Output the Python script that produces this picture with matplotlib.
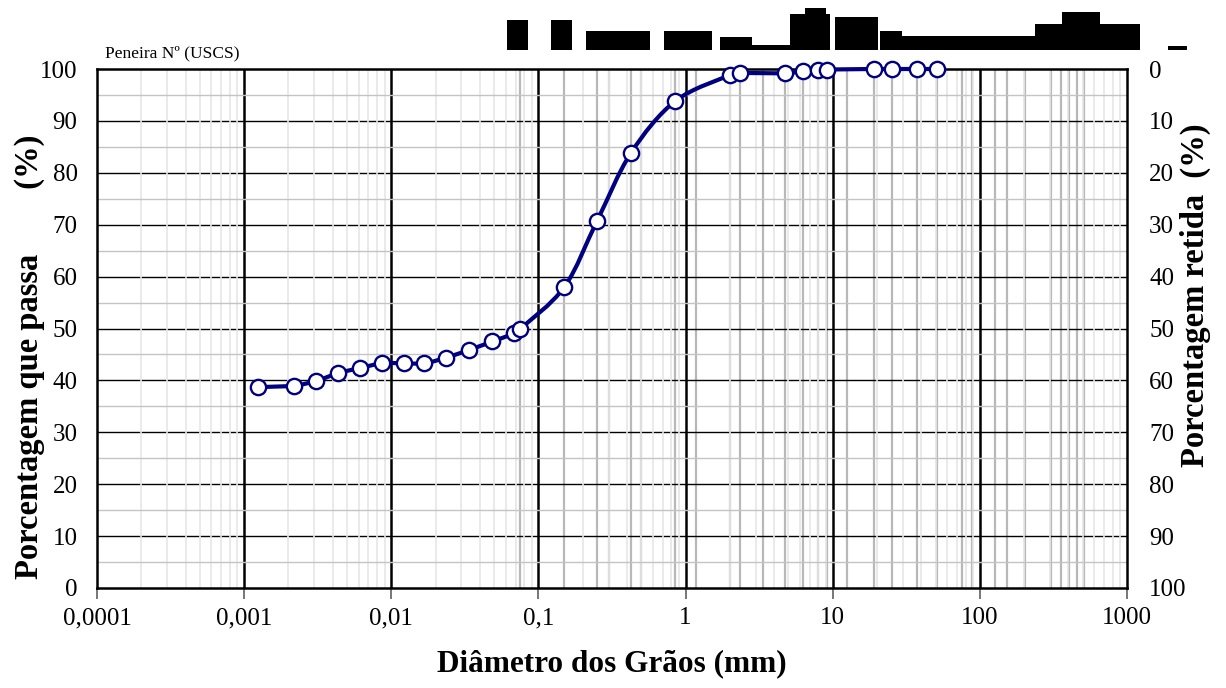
import matplotlib
matplotlib.use("Agg")
import matplotlib.pyplot as plt
import numpy as np
from matplotlib.path import Path
from matplotlib.patches import PathPatch, Rectangle
from matplotlib.ticker import FixedLocator, LogLocator, NullFormatter

plt.rcParams["font.family"] = ["Liberation Serif", "DejaVu Serif"]

# grain size curve: hydrometer readings below 0.075 mm, sieves above
diam_mm = [0.00124, 0.00219, 0.00309, 0.00436, 0.00616, 0.00869, 0.01225,
           0.0168, 0.0237, 0.034, 0.0487, 0.0687, 0.075, 0.15, 0.25, 0.425,
           0.85, 2.0, 2.36, 4.75, 6.3, 8.0, 9.2, 19.0, 25.4, 37.5, 50.8]
pct_passing = [38.7, 39.0, 39.9, 41.4, 42.4, 43.3, 43.3, 43.3, 44.4, 45.9,
               47.5, 49.1, 49.9, 58.0, 70.7, 83.8, 93.8, 98.8, 99.2, 99.2,
               99.6, 99.9, 99.9, 100.0, 100.0, 100.0, 100.0]

# USCS sieve openings (mm), drawn as darker vertical grid lines
sieve_mm = [0.075, 0.15, 0.25, 0.3, 0.425, 0.5, 0.85, 1.18, 2.0, 2.36, 3.35,
            4.75, 6.3, 8.0, 9.2, 12.5, 19.0, 25.4, 37.5, 50.8, 76.2, 88.9,
            127.0, 152.4, 203.2, 304.8, 355.6, 406.4, 457.2, 508.0]

x_ticks = [1e-4, 1e-3, 1e-2, 1e-1, 1, 10, 100, 1000]
x_tick_labels = ["0,0001", "0,001", "0,01", "0,1", "1", "10", "100", "1000"]
y_ticks = list(range(0, 101, 10))
y_minor = list(range(5, 100, 10))

# sieve number band over the plot (left, right, top) in pixels, base at 50 px
sieve_band = [(507, 528, 20), (551, 572, 20), (586, 650, 31), (664, 712, 31),
              (720, 752, 37), (752, 790, 45), (790, 830, 14), (805, 826, 8),
              (835, 878, 17), (880, 902, 31), (902, 1035, 36), (1035, 1062, 24),
              (1062, 1100, 12), (1100, 1140, 24), (1168, 1187, 46)]
band_base = 50

NAVY = "#000080"
W, H = 1226, 688


def smooth_path(ax, x, y):
    """Bezier curve through the points, built in screen space like a
    spreadsheet 'smoothed line'."""
    pts = ax.transData.transform(np.column_stack([x, y]))
    p = np.vstack([pts[0], pts, pts[-1]])
    verts, codes = [pts[0]], [Path.MOVETO]
    for i in range(1, len(p) - 2):
        p0, p1, p2, p3 = p[i - 1], p[i], p[i + 1], p[i + 2]
        verts += [p1 + (p2 - p0) / 6, p2 - (p3 - p1) / 6, p2]
        codes += [Path.CURVE4] * 3
    verts = ax.transData.inverted().transform(np.array(verts))
    return Path(verts, codes)


fig = plt.figure(figsize=(W / 100, H / 100), dpi=100)
ax = fig.add_axes([97 / W, 1 - 588 / H, 1030 / W, 519 / H])
ax.set_xscale("log")
ax.set_xlim(1e-4, 1e3)
ax.set_ylim(0, 100)

# grid: light minor decades, grey sieve lines, black majors
ax.xaxis.set_minor_locator(LogLocator(base=10, subs=np.arange(2, 10)))
ax.xaxis.set_minor_formatter(NullFormatter())
ax.yaxis.set_minor_locator(FixedLocator(y_minor))
ax.grid(which="minor", axis="x", color="#e6e6e6", lw=1.2, zorder=0.3)
ax.grid(which="minor", axis="y", color="#c4c4c4", lw=1.0, zorder=0.3)
for s in sieve_mm:
    ax.axvline(s, color="#b8b8b8", lw=1.6, zorder=0.4)
for v in y_ticks[1:-1]:
    ax.axhline(v, color="black", lw=1.0, zorder=0.5)
for v in x_ticks[1:-1]:
    ax.axvline(v, color="black", lw=1.8, zorder=0.6)

ax.set_xticks(x_ticks)
ax.set_xticklabels(x_tick_labels)
ax.set_yticks(y_ticks)
ax.tick_params(axis="x", which="major", direction="out", length=8, width=1.2,
               color="#606060", labelsize=18, pad=6)
ax.tick_params(axis="x", which="minor", length=0)
ax.tick_params(axis="y", which="both", length=0, labelsize=18, pad=14)
for sp in ax.spines.values():
    sp.set_linewidth(1.8)
    sp.set_color("black")

ax.set_xlabel("Diâmetro dos Grãos (mm)", fontsize=22.5, fontweight="bold",
              labelpad=14)
ax.set_ylabel("Porcentagem que passa        (%)", fontsize=23.5,
              fontweight="bold", va="center")
ax.yaxis.set_label_coords(-0.066, 0.445)

ax2 = ax.twinx()
ax2.set_ylim(100, 0)
ax2.set_yticks(y_ticks)
ax2.tick_params(axis="y", length=0, labelsize=18, pad=16)
ax2.set_ylabel("Porcentagem retida  (%)", fontsize=23.5, fontweight="bold",
               va="center")
ax2.yaxis.set_label_coords(1.066, 0.565)
for sp in ax2.spines.values():
    sp.set_visible(False)

# smoothed curve and the measured points on top
curve = PathPatch(smooth_path(ax, diam_mm, pct_passing), facecolor="none",
                  edgecolor=NAVY, lw=3.0, zorder=5, clip_on=False)
ax.add_patch(curve)
ax.plot(diam_mm, pct_passing, ls="none", marker="o", ms=11, mfc="white",
        mec=NAVY, mew=1.7, zorder=6, clip_on=False)

fig.text(105 / W, 1 - 57 / H, "Peneira Nº (USCS)", fontsize=12.5,
         ha="left", va="baseline")

# header band with the sieve numbers
for x0, x1, top in sieve_band:
    fig.add_artist(Rectangle((x0 / W, 1 - band_base / H), (x1 - x0) / W,
                             (band_base - top) / H, transform=fig.transFigure,
                             facecolor="black", edgecolor="none"))

fig.savefig("out.png", dpi=100)
